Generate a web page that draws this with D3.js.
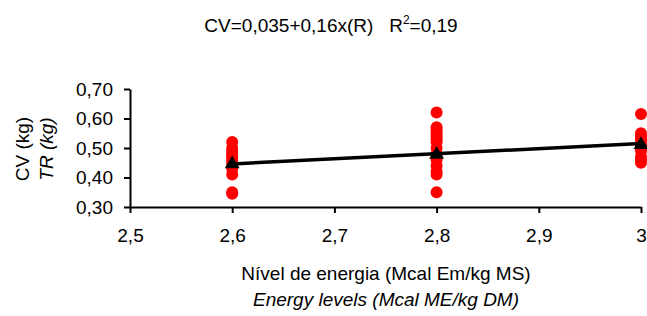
<!DOCTYPE html>
<html lang="en">
  <head>
    <meta charset="utf-8">
    <title>CV x energy level</title>
    <script src="https://cdnjs.cloudflare.com/ajax/libs/d3/7.8.5/d3.min.js"></script>
    <style>
      body { margin: 0; background: #fff; font-family: "Liberation Sans", Arial, sans-serif; }
      svg text { fill: #000; }
    </style>
  </head>
  <body>
    <script type="text/javascript">

    // energy levels (x) and observed CV values for each level
    const levels = [2.6, 2.8, 3.0];
    const obs26 = [0.52, 0.50, 0.49, 0.48, 0.47, 0.46, 0.45, 0.44, 0.43, 0.41, 0.35, 0.345];
    const obs28 = [0.62, 0.57, 0.56, 0.55, 0.54, 0.53, 0.52, 0.50, 0.48, 0.47, 0.46, 0.44, 0.42, 0.41, 0.35];
    const obs30 = [0.615, 0.55, 0.54, 0.53, 0.52, 0.51, 0.50, 0.49, 0.47, 0.46, 0.45];
    const means = [0.446, 0.478, 0.511];
    const xTicks = [2.5, 2.6, 2.7, 2.8, 2.9, 3.0];
    const yTicks = [0.30, 0.40, 0.50, 0.60, 0.70];
    const fitA = 0.035, fitB = 0.16;

    const w = 647, h = 316;
    const fs = 19;
    const svg = d3.select("body").append("svg")
      .attr("width", w).attr("height", h);

    const x = d3.scaleLinear().domain([2.5, 3.0]).range([130, 641]);
    const y = d3.scaleLinear().domain([0.30, 0.70]).range([207, 89]);
    const fmt = v => d3.format(".2f")(v).replace(".", ",");
    const fmtX = v => (v === 3 ? "3" : d3.format(".1f")(v).replace(".", ","));

    const xAxis = svg.append("g")
      .attr("transform", "translate(0,207)")
      .call(d3.axisBottom(x).tickValues(xTicks).tickFormat(fmtX).tickSizeInner(6).tickSizeOuter(0).tickPadding(16));
    const yAxis = svg.append("g")
      .attr("transform", "translate(130,0)")
      .call(d3.axisLeft(y).tickValues(yTicks).tickFormat(fmt).tickSizeInner(6).tickSizeOuter(0).tickPadding(11));
    [xAxis, yAxis].forEach(g => {
      g.select(".domain").attr("stroke", "#000").attr("stroke-width", 2);
      g.selectAll(".tick line").attr("stroke", "#000").attr("stroke-width", 2);
      g.selectAll("text").attr("font-size", fs).attr("font-family", "Liberation Sans, Arial, sans-serif");
    });

    // scatter of observations
    const pts = [];
    [obs26, obs28, obs30].forEach((arr, i) => arr.forEach(v => pts.push([levels[i], v])));
    svg.selectAll("circle.obs").data(pts).enter().append("circle")
      .attr("class", "obs")
      .attr("cx", d => x(d[0]))
      .attr("cy", d => y(d[1]))
      .attr("r", 6)
      .attr("fill", "#ff0000");

    // regression line
    svg.append("line")
      .attr("x1", x(levels[0])).attr("y1", y(fitA + fitB * levels[0]) + 1.5)
      .attr("x2", x(levels[2])).attr("y2", y(fitA + fitB * levels[2]))
      .attr("stroke", "#000").attr("stroke-width", 3.5);

    // means
    svg.selectAll("path.mean").data(means).enter().append("path")
      .attr("class", "mean")
      .attr("d", d3.symbol(d3.symbolTriangle, 95))
      .attr("transform", (d, i) => "translate(" + x(levels[i]) + "," + y(d) + ")")
      .attr("fill", "#000");

    // title
    const t = svg.append("text").attr("x", 331).attr("y", 32)
      .attr("text-anchor", "middle").attr("font-size", fs);
    t.append("tspan").text("CV=0,035+0,16x(R)\u00a0\u00a0\u00a0R");
    t.append("tspan").attr("font-size", 12).attr("dy", -8).text("2");
    t.append("tspan").attr("dy", 8).text("=0,19");

    // axis titles
    svg.append("text").attr("x", 386).attr("y", 280).attr("text-anchor", "middle")
      .attr("font-size", fs).text("Nível de energia (Mcal Em/kg MS)");
    svg.append("text").attr("x", 386).attr("y", 306).attr("text-anchor", "middle")
      .attr("font-size", fs).attr("font-style", "italic").text("Energy levels (Mcal ME/kg DM)");

    svg.append("text").attr("transform", "translate(29,149) rotate(-90)")
      .attr("text-anchor", "middle").attr("font-size", fs).text("CV (kg)");
    svg.append("text").attr("transform", "translate(53,149) rotate(-90)")
      .attr("text-anchor", "middle").attr("font-size", fs).attr("font-style", "italic").text("TR (kg)");

    </script>
  </body>
</html>
